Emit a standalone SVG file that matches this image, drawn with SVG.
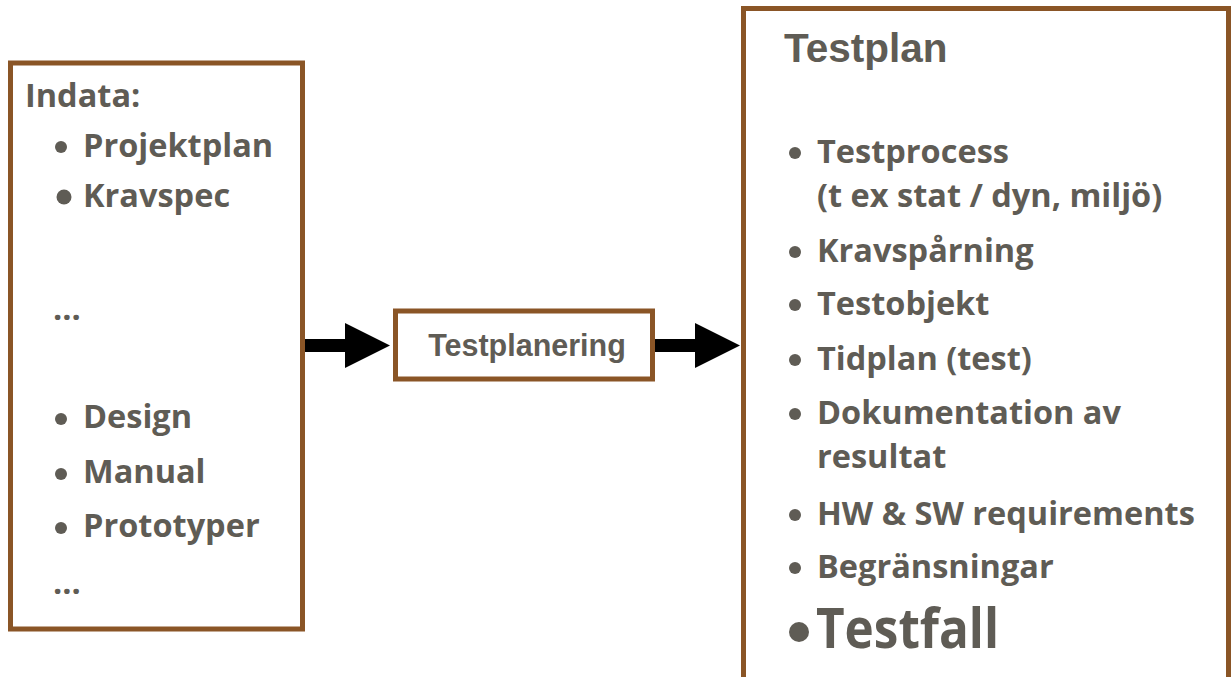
<svg xmlns="http://www.w3.org/2000/svg" width="1231" height="677" viewBox="0 0 1231 677">
<style>
.box{fill:#ffffff;stroke:#8a5526;stroke-width:5}
.t{font-family:"Open Sans","Noto Sans",sans-serif;font-weight:bold;font-size:32.5px;fill:#5f5c55}
.big{font-size:56px}
.a{font-family:"Liberation Sans",Arial,sans-serif;font-weight:bold;fill:#5f5c55}
.dot{fill:#5f5c55}
.arr{fill:#000000}
</style>
<rect x="0" y="0" width="1231" height="677" fill="#ffffff"/>
<g id="indata">
<rect class="box" x="10.5" y="63" width="292" height="566"/>
<text class="t" x="25" y="107">Indata:</text>
<circle class="dot" cx="61" cy="147" r="6"/>
<text class="t" x="83" y="157">Projektplan</text>
<circle class="dot" cx="64" cy="197" r="7.5"/>
<text class="t" x="83" y="207">Kravspec</text>
<text class="t" x="53" y="320">...</text>
<circle class="dot" cx="61" cy="419" r="6"/>
<text class="t" x="83" y="428">Design</text>
<circle class="dot" cx="61" cy="474" r="6"/>
<text class="t" x="83" y="483">Manual</text>
<circle class="dot" cx="61" cy="528" r="6"/>
<text class="t" x="83" y="537">Prototyper</text>
<text class="t" x="53" y="594">...</text>
</g>
<g id="testplanering">
<rect class="box" x="395.5" y="311" width="257" height="68"/>
<text class="a" x="527" y="356" font-size="30.5" text-anchor="middle">Testplanering</text>
</g>
<g id="testplan">
<rect class="box" x="743.5" y="8.5" width="485" height="700"/>
<text class="a" x="784" y="62" font-size="40.5">Testplan</text>
<circle class="dot" cx="795" cy="153" r="6"/>
<text class="t" x="817" y="163">Testprocess</text>
<text class="t" x="817" y="207">(t ex stat / dyn, miljö)</text>
<circle class="dot" cx="795" cy="252" r="6"/>
<text class="t" x="817" y="262">Kravspårning</text>
<circle class="dot" cx="795" cy="305" r="6"/>
<text class="t" x="817" y="315">Testobjekt</text>
<circle class="dot" cx="795" cy="360" r="6"/>
<text class="t" x="817" y="370">Tidplan (test)</text>
<circle class="dot" cx="795" cy="414" r="6"/>
<text class="t" x="817" y="424">Dokumentation av</text>
<text class="t" x="817" y="468">resultat</text>
<circle class="dot" cx="795" cy="515" r="6"/>
<text class="t" x="817" y="525">HW &amp; SW requirements</text>
<circle class="dot" cx="795" cy="568" r="6"/>
<text class="t" x="817" y="578">Begränsningar</text>
<circle class="dot" cx="799" cy="632" r="10"/>
<text class="t big" x="816" y="648" textLength="183" lengthAdjust="spacingAndGlyphs">Testfall</text>
</g>
<g id="connectors">
<polygon class="arr" points="305,339 345,339 345,323 390,345.5 345,368 345,352 305,352"/>
<polygon class="arr" points="655,339 695,339 695,323 740,345.5 695,368 695,352 655,352"/>
</g>
</svg>
